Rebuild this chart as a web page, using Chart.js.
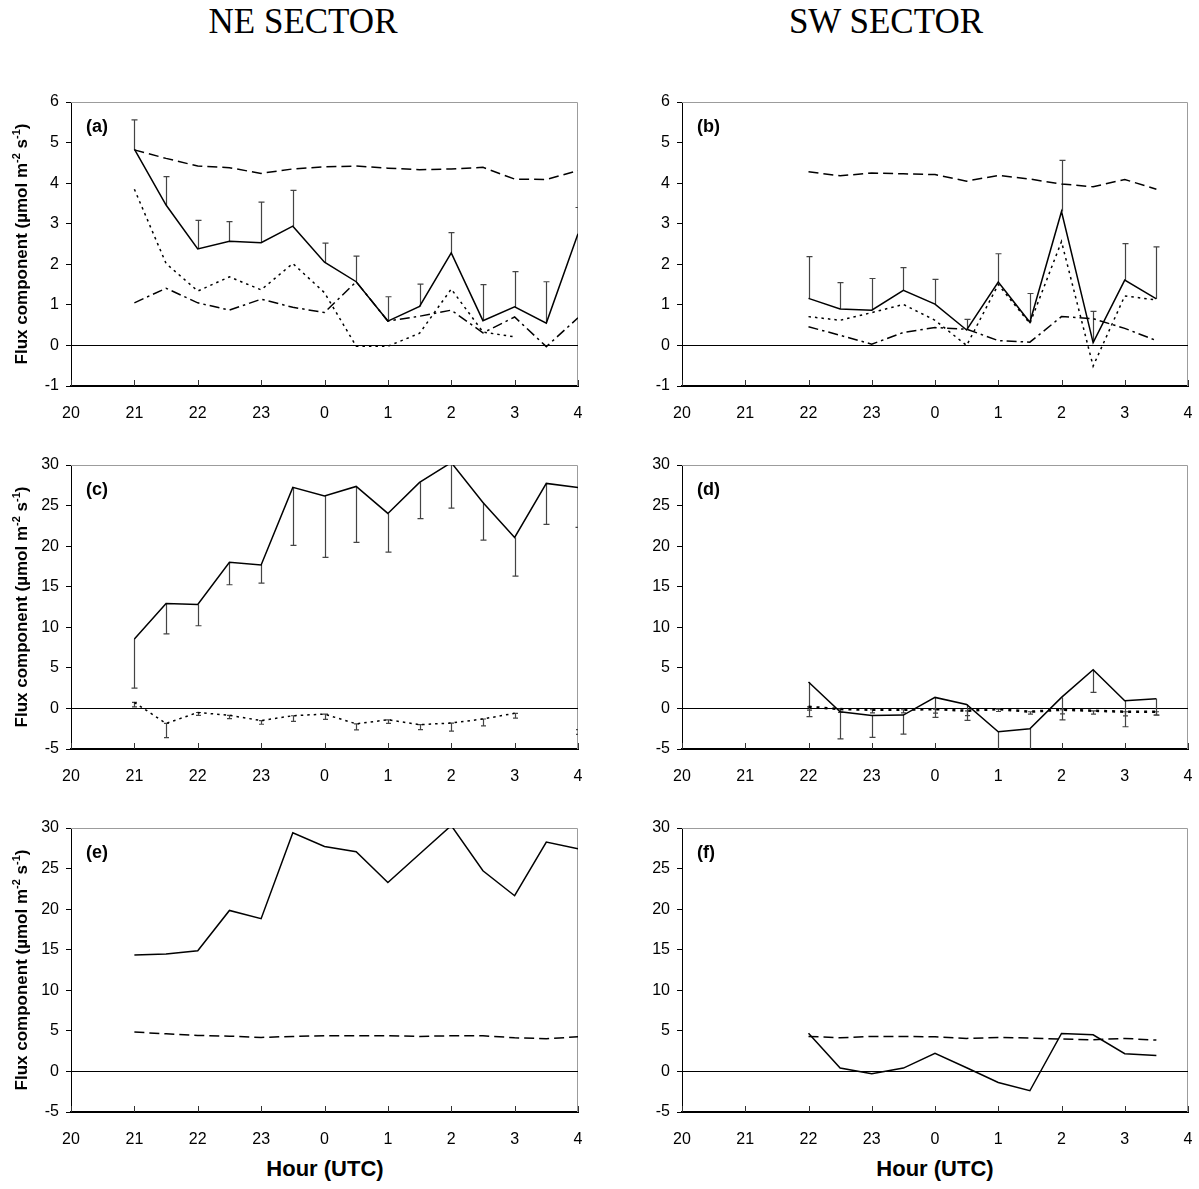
<!DOCTYPE html>
<html>
<head>
<meta charset="utf-8">
<title>Flux components by sector</title>
<script src="https://cdn.jsdelivr.net/npm/chart.js@4.4.1/dist/chart.umd.min.js"></script>
<style>
  html, body { margin: 0; padding: 0; background: #fff; }
  body { width: 1199px; height: 1189px; position: relative; overflow: hidden;
         font-family: "Liberation Sans", Arial, sans-serif; color: #000; }
  canvas { position: absolute; }
  .sector { position: absolute; top: 4px; font-family: "Liberation Serif", "Times New Roman", serif;
            font-size: 35px; line-height: 35px; transform: translateX(-50%); white-space: nowrap; }
  .xtitle { position: absolute; top: 1158px; font-weight: bold; font-size: 22px; line-height: 22px;
            transform: translateX(-50%); white-space: nowrap; }
</style>
</head>
<body>
<div class="sector" style="left:303px">NE SECTOR</div>
<div class="sector" style="left:886px">SW SECTOR</div>
<div class="xtitle" style="left:325px">Hour (UTC)</div>
<div class="xtitle" style="left:935px">Hour (UTC)</div>

<canvas id="pa"></canvas>
<canvas id="pb"></canvas>
<canvas id="pc"></canvas>
<canvas id="pd"></canvas>
<canvas id="pe"></canvas>
<canvas id="pf"></canvas>

<script>
// ---- axis labels and sampling times ----
const hourTickLabels = ['20', '21', '22', '23', '0', '1', '2', '3', '4'];
const hoursNE = [21, 21.5, 22, 22.5, 23, 23.5, 0, 0.5, 1, 1.5, 2, 2.5, 3, 3.5, 4];
const hoursSW = [22, 22.5, 23, 23.5, 0, 0.5, 1, 1.5, 2, 2.5, 3, 3.5];

// ---- (a) NE sector ----
const a_solid   = [4.84, 3.46, 2.38, 2.57, 2.53, 2.94, 2.05, 1.57, 0.60, 0.96, 2.28, 0.61, 0.95, 0.55, 2.75];
const a_solidSd = [0.72, 0.70, 0.70, 0.48, 1.00, 0.88, 0.47, 0.63, 0.60, 0.55, 0.50, 0.89, 0.87, 1.02, 0.65];
const a_dashed  = [4.82, 4.61, 4.42, 4.38, 4.24, 4.35, 4.40, 4.42, 4.37, 4.33, 4.35, 4.39, 4.10, 4.09, 4.31];
const a_dotted  = [3.85, 2.02, 1.34, 1.69, 1.37, 2.02, 1.30, -0.02, -0.02, 0.30, 1.39, 0.33, 0.21, null, null];
const a_dashDot = [1.05, 1.41, 1.05, 0.87, 1.14, 0.94, 0.81, 1.57, 0.60, 0.72, 0.87, 0.31, 0.70, -0.03, 0.68];

// ---- (b) SW sector ----
const b_solid   = [1.16, 0.90, 0.87, 1.36, 1.02, 0.38, 1.56, 0.57, 3.30, 0.07, 1.61, 1.15];
const b_solidSd = [1.03, 0.65, 0.78, 0.56, 0.61, 0.26, 0.70, 0.71, 1.26, 0.77, 0.90, 1.28];
const b_dashed  = [4.28, 4.18, 4.25, 4.23, 4.21, 4.05, 4.19, 4.10, 3.98, 3.91, 4.09, 3.85];
const b_dotted  = [0.71, 0.62, 0.81, 1.01, 0.62, 0.00, 1.50, 0.54, 2.56, -0.51, 1.22, 1.12];
const b_dashDot = [0.46, 0.25, 0.03, 0.32, 0.44, 0.40, 0.12, 0.08, 0.71, 0.66, 0.42, 0.12];

// ---- (c) NE sector ----
const c_solid    = [8.55, 12.94, 12.82, 18.00, 17.67, 27.24, 26.17, 27.36, 24.03, 27.86, 30.30, 25.39, 21.08, 27.73, 27.24];
const c_solidSd  = [6.05, 3.74, 2.63, 2.76, 2.22, 7.15, 7.56, 6.90, 4.76, 4.48, 5.61, 4.64, 4.77, 5.05, 4.93];
const c_dotted   = [0.74, -1.85, -0.50, -0.85, -1.50, -0.90, -0.70, -1.90, -1.40, -2.00, -1.80, -1.30, -0.60, null, -2.60];
const c_dottedSd = [0.55, 1.75, 0.35, 0.40, 0.45, 0.70, 0.65, 0.75, 0.45, 0.60, 1.00, 0.85, 0.60, null, 0.60];

// ---- (d) SW sector ----
const d_solid    = [3.25, -0.41, -0.86, -0.82, 1.36, 0.49, -2.88, -2.50, 1.36, 4.77, 0.94, 1.19];
const d_solidSd  = [4.25, 3.33, 2.71, 2.34, 2.46, 1.97, 3.50, 3.20, 2.76, 2.80, 3.20, 2.01];
const d_dotted   = [0.20, -0.08, -0.16, -0.16, -0.08, -0.29, -0.08, -0.41, -0.16, -0.29, -0.41, -0.41];
const d_dottedSd = [0.40, 0.40, 0.40, 0.40, 0.50, 0.60, 0.30, 0.30, 0.50, 0.40, 0.50, 0.40];

// ---- (e) NE sector ----
const e_solid  = [14.34, 14.46, 14.87, 19.84, 18.82, 29.42, 27.73, 27.07, 23.29, 26.79, 30.30, 24.73, 21.65, 28.27, 27.44];
const e_dashed = [4.85, 4.64, 4.44, 4.35, 4.19, 4.31, 4.40, 4.40, 4.40, 4.31, 4.40, 4.40, 4.15, 4.03, 4.27];

// ---- (f) SW sector ----
const f_solid  = [4.72, 0.41, -0.29, 0.41, 2.22, 0.45, -1.36, -2.38, 4.68, 4.52, 2.18, 1.97];
const f_dashed = [4.31, 4.15, 4.31, 4.31, 4.27, 4.07, 4.19, 4.11, 3.99, 3.90, 4.07, 3.86];

// ---- line styles ----
const SOLID = [];
const DASHED = [10, 5];
const DOTTED = [2.5, 4];
const DASHDOT = [10, 4, 2.5, 4];

const FONT = '"Liberation Sans", Arial, Helvetica, sans-serif';

// clock hour -> position on a 20..4 h axis
function hourPos(h) { return h >= 20 ? h - 20 : h + 4; }

function series(hours, values, dash, extra) {
  return Object.assign({
    data: hours.map((h, i) => ({ x: hourPos(h), y: values[i] })),
    borderColor: '#000',
    borderWidth: 1.5,
    borderDash: dash,
    pointRadius: 0,
    pointHoverRadius: 0,
    tension: 0,
    fill: false,
    spanGaps: false
  }, extra || {});
}

// Frame, zero line, inner ticks, error bars, panel letter and y title
const panelDecor = {
  id: 'panelDecor',
  beforeDatasetsDraw(chart, args, opts) {
    const { ctx, chartArea: a, scales: { x, y } } = chart;
    ctx.save();
    // light frame on top and right
    ctx.strokeStyle = '#9c9c9c';
    ctx.lineWidth = 1;
    ctx.beginPath();
    ctx.moveTo(a.left, a.top + 0.5);
    ctx.lineTo(a.right - 0.5, a.top + 0.5);
    ctx.lineTo(a.right - 0.5, a.bottom);
    ctx.stroke();
    // zero line
    const y0 = Math.round(y.getPixelForValue(0)) + 0.5;
    ctx.strokeStyle = '#000';
    ctx.beginPath();
    ctx.moveTo(a.left, y0);
    ctx.lineTo(a.right, y0);
    ctx.stroke();
    // tick marks pointing into the plot along the hour axis
    ctx.strokeStyle = '#333';
    ctx.beginPath();
    x.ticks.forEach(t => {
      const px = Math.round(x.getPixelForValue(t.value)) + 0.5;
      ctx.moveTo(px, a.bottom);
      ctx.lineTo(px, a.bottom - 6);
    });
    ctx.stroke();
    // error bars
    ctx.beginPath();
    ctx.rect(a.left, a.top, a.right - a.left, a.bottom - a.top);
    ctx.clip();
    chart.data.datasets.forEach(ds => {
      if (!ds.sd) return;
      ctx.strokeStyle = ds.errColor || '#444';
      ctx.lineWidth = 1.2;
      ctx.setLineDash([]);
      ds.data.forEach((p, i) => {
        const s = ds.sd[i];
        if (p.y === null || s === null || s === undefined) return;
        const px = Math.round(x.getPixelForValue(p.x)) + 0.5;
        const py = y.getPixelForValue(p.y);
        const pe = y.getPixelForValue(p.y + ds.errDir * s);
        const cw = ds.capW || 3;
        ctx.beginPath();
        ctx.moveTo(px, py);
        ctx.lineTo(px, pe);
        ctx.moveTo(px - cw, pe);
        ctx.lineTo(px + cw, pe);
        if (ds.capBoth) {
          ctx.moveTo(px - cw, py);
          ctx.lineTo(px + cw, py);
        }
        ctx.stroke();
      });
    });
    ctx.restore();
  },
  afterDraw(chart, args, opts) {
    const { ctx, chartArea: a } = chart;
    ctx.save();
    ctx.fillStyle = '#000';
    ctx.font = 'bold 18px ' + FONT;
    ctx.textBaseline = 'middle';
    ctx.textAlign = 'left';
    ctx.fillText(opts.label, a.left + 15, a.top + 25);
    if (opts.yTitle) {
      const main = 'bold 17px ' + FONT;
      const sup = 'bold 11px ' + FONT;
      const parts = [
        ['Flux component (\u00b5mol m', main, 0],
        ['-2', sup, -7],
        [' s', main, 0],
        ['-1', sup, -7],
        [')', main, 0]
      ];
      let total = 0;
      parts.forEach(p => { ctx.font = p[1]; total += ctx.measureText(p[0]).width; });
      const cx = 21;
      const cy = (a.top + a.bottom) / 2;
      ctx.translate(cx, cy);
      ctx.rotate(-Math.PI / 2);
      ctx.textBaseline = 'alphabetic';
      let xx = -total / 2;
      parts.forEach(p => {
        ctx.font = p[1];
        ctx.fillText(p[0], xx, 6 + p[2]);
        xx += ctx.measureText(p[0]).width;
      });
    }
    ctx.restore();
  }
};

const COLS = {
  left:  { canvasLeft: 0,   canvasW: 600, plotLeft: 71,  plotRight: 578 },
  right: { canvasLeft: 600, canvasW: 599, plotLeft: 682, plotRight: 1188 }
};
const ROWS = {
  top:    { plotTop: 102, plotBottom: 386, min: -1, max: 6,  step: 1 },
  middle: { plotTop: 465, plotBottom: 749, min: -5, max: 30, step: 5 },
  bottom: { plotTop: 828, plotBottom: 1112, min: -5, max: 30, step: 5 }
};
const PAD_TOP = 22;
const X_AXIS_H = 38;

function makePanel(id, col, row, label, yTitle, datasets) {
  const c = COLS[col], r = ROWS[row];
  const canvas = document.getElementById(id);
  const h = r.plotBottom - r.plotTop + PAD_TOP + X_AXIS_H;
  canvas.width = c.canvasW;
  canvas.height = h;
  canvas.style.left = c.canvasLeft + 'px';
  canvas.style.top = (r.plotTop - PAD_TOP) + 'px';
  canvas.style.width = c.canvasW + 'px';
  canvas.style.height = h + 'px';
  const yAxisW = c.plotLeft - c.canvasLeft;
  const padRight = c.canvasW - (c.plotRight - c.canvasLeft);

  return new Chart(canvas, {
    type: 'line',
    data: { datasets },
    options: {
      responsive: false,
      animation: false,
      devicePixelRatio: 1,
      events: [],
      layout: { padding: { top: PAD_TOP, right: padRight, left: 0, bottom: 0 } },
      plugins: {
        legend: { display: false },
        tooltip: { enabled: false },
        panelDecor: { label, yTitle }
      },
      scales: {
        x: {
          type: 'linear',
          min: 0, max: 8,
          ticks: {
            stepSize: 1,
            autoSkip: false,
            maxRotation: 0,
            padding: 18,
            color: '#000',
            font: { size: 16, family: FONT },
            callback: v => hourTickLabels[v]
          },
          grid: { display: false, drawTicks: false },
          border: { display: true, color: '#000', width: 2 },
          afterFit: s => { s.height = X_AXIS_H; s.paddingLeft = 0; s.paddingRight = 0; }
        },
        y: {
          min: r.min, max: r.max,
          ticks: {
            stepSize: r.step,
            padding: 7,
            color: '#000',
            font: { size: 16, family: FONT }
          },
          grid: { display: true, drawOnChartArea: false, drawTicks: true, tickLength: 5, color: '#000' },
          border: { display: true, color: '#000', width: 1 },
          afterFit: s => { s.width = yAxisW; s.paddingTop = 0; s.paddingBottom = 0; }
        }
      }
    },
    plugins: [panelDecor]
  });
}

// (a)
makePanel('pa', 'left', 'top', '(a)', true, [
  series(hoursNE, a_solid, SOLID, { sd: a_solidSd, errDir: 1 }),
  series(hoursNE, a_dashed, DASHED),
  series(hoursNE, a_dotted, DOTTED),
  series(hoursNE, a_dashDot, DASHDOT)
]);
// (b)
makePanel('pb', 'right', 'top', '(b)', false, [
  series(hoursSW, b_solid, SOLID, { sd: b_solidSd, errDir: 1 }),
  series(hoursSW, b_dashed, DASHED),
  series(hoursSW, b_dotted, DOTTED),
  series(hoursSW, b_dashDot, DASHDOT)
]);
// (c)
makePanel('pc', 'left', 'middle', '(c)', true, [
  series(hoursNE, c_solid, SOLID, { sd: c_solidSd, errDir: -1 }),
  series(hoursNE, c_dotted, DOTTED, { sd: c_dottedSd, errDir: -1, capBoth: true, capW: 2.5 })
]);
// (d)
makePanel('pd', 'right', 'middle', '(d)', false, [
  series(hoursSW, d_solid, SOLID, { sd: d_solidSd, errDir: -1 }),
  series(hoursSW, d_dotted, DOTTED, { sd: d_dottedSd, errDir: -1, capBoth: true, capW: 2.5, borderWidth: 2.5, borderDash: [3, 5] })
]);
// (e)
makePanel('pe', 'left', 'bottom', '(e)', true, [
  series(hoursNE, e_solid, SOLID),
  series(hoursNE, e_dashed, DASHED)
]);
// (f)
makePanel('pf', 'right', 'bottom', '(f)', false, [
  series(hoursSW, f_solid, SOLID),
  series(hoursSW, f_dashed, DASHED)
]);
</script>
</body>
</html>
